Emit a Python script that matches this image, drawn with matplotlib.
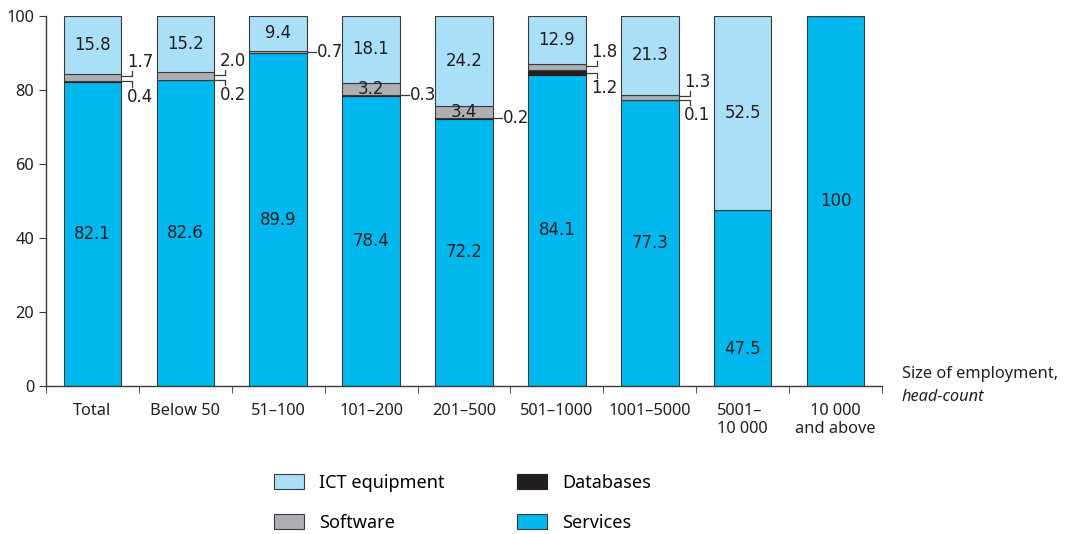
import numpy as np
import matplotlib.pyplot as plt
from matplotlib.patches import Patch

categories = ["Total", "Below 50", "51\u2013100", "101\u2013200", "201\u2013500",
              "501\u20131000", "1001\u20135000", "5001\u2013\n10 000", "10 000\nand above"]
services = [82.1, 82.6, 89.9, 78.4, 72.2, 84.1, 77.3, 47.5, 100]
databases = [0.4, 0.2, 0.0, 0.3, 0.2, 1.2, 0.1, 0.0, 0.0]
software = [1.7, 2.0, 0.7, 3.2, 3.4, 1.8, 1.3, 0.0, 0.0]
ict = [15.8, 15.2, 9.4, 18.1, 24.2, 12.9, 21.3, 52.5, 0.0]

C_ICT = "#a9dff7"
C_SOFT = "#aeafb2"
C_DB = "#231f20"
C_SERV = "#00b8ee"
EDGE = "#3a3a3a"

VAL_FONT = ["DejaVu Sans"]
TXT_FONT = ["Noto Sans", "DejaVu Sans"]

fig = plt.figure(figsize=(10.68, 5.34), dpi=100)
ax = fig.add_axes([46/1068, 1-386/534, 836/1068, 370/534])

x = np.arange(len(categories))
w = 0.62
services = np.array(services)
databases = np.array(databases)
software = np.array(software)
ict = np.array(ict)

b0 = services + databases
b1 = b0 + software
ax.bar(x, services, w, color=C_SERV, edgecolor=EDGE, linewidth=0.8)
ax.bar(x, databases, w, bottom=services, color=C_DB, edgecolor=C_DB, linewidth=0.8)
ax.bar(x, software, w, bottom=b0, color=C_SOFT, edgecolor=EDGE, linewidth=0.8)
ax.bar(x, ict, w, bottom=b1, color=C_ICT, edgecolor=EDGE, linewidth=0.8)

vkw = dict(family=VAL_FONT, fontstretch="condensed", fontsize=13.2, color="#231f20")

# labels inside the segments
for i in range(len(x)):
    if services[i] > 0:
        y = 10 if i == 7 else services[i] / 2
        ax.text(x[i], y, f"{services[i]:g}", ha="center", va="center", **vkw)
    if ict[i] > 0:
        ax.text(x[i], b1[i] + ict[i] / 2, f"{ict[i]:.1f}", ha="center", va="center", **vkw)
for i in (3, 4):
    ax.text(x[i], b0[i] + software[i] / 2, f"{software[i]:.1f}", ha="center",
            va="center", **vkw)

# bracket callouts for the thin segments
edge = w / 2
hl = 0.12
vl = 1.4
for i in (0, 1, 5, 6):
    xe = x[i] + edge
    ys = b0[i] + software[i] / 2 + 0.3
    ax.plot([xe, xe + hl, xe + hl], [ys, ys, ys + vl], color=EDGE, lw=0.9,
            clip_on=False)
    ax.text(xe + 0.06, ys + vl, f"{software[i]:.1f}", ha="left", va="bottom", **vkw)
    yd = services[i] + databases[i] / 2
    ax.plot([xe, xe + hl, xe + hl], [yd, yd, yd - vl], color=EDGE, lw=0.9,
            clip_on=False)
    ax.text(xe + 0.06, yd - vl - 0.3, f"{databases[i]:.1f}", ha="left", va="top", **vkw)

singles = [(2, b0[2] + software[2] / 2, software[2]),
           (3, services[3] + databases[3] / 2, databases[3]),
           (4, services[4] + databases[4] / 2, databases[4])]
for i, y, v in singles:
    xe = x[i] + edge
    ax.plot([xe, xe + 0.1], [y, y], color=EDGE, lw=0.9, clip_on=False)
    ax.text(xe + 0.11, y, f"{v:.1f}", ha="left", va="center", **vkw)

ax.set_xlim(-0.5, len(x) - 0.5)
ax.set_ylim(0, 100)
ax.set_yticks(np.arange(0, 101, 20))
ax.set_xticks(x)
ax.set_xticklabels(categories, family=TXT_FONT, fontsize=11.8, color="#231f20")
ax.get_xticklabels()[7].set_multialignment("left")
ax.set_xticks(np.arange(-0.5, len(x), 1), minor=True)
ax.tick_params(axis="x", which="major", length=0, pad=12)
ax.tick_params(axis="x", which="minor", length=5, direction="out", color=EDGE)
ax.tick_params(axis="y", length=5, direction="out", color=EDGE, labelsize=11.8,
               labelcolor="#231f20")
for lab in ax.get_yticklabels():
    lab.set_family(TXT_FONT)
for s in ("top", "right"):
    ax.spines[s].set_visible(False)
for s in ("left", "bottom"):
    ax.spines[s].set_color(EDGE)
    ax.spines[s].set_linewidth(1.0)

fig.text(902/1068, 1-366/534, "Size of employment,", family=TXT_FONT, fontsize=11.8,
         color="#231f20", va="top", ha="left")
fig.text(902/1068, 1-389/534, "head-count", family=TXT_FONT, fontsize=11.8,
         style="italic", color="#231f20", va="top", ha="left")

handles = [Patch(facecolor=C_ICT, edgecolor=EDGE, lw=0.8, label="ICT equipment"),
           Patch(facecolor=C_SOFT, edgecolor=EDGE, lw=0.8, label="Software"),
           Patch(facecolor=C_DB, edgecolor=C_DB, lw=0.8, label="Databases"),
           Patch(facecolor=C_SERV, edgecolor=EDGE, lw=0.8, label="Services")]
fig.legend(handles=handles, ncol=2, loc="center", bbox_to_anchor=(0.433, 0.058),
           frameon=False, prop={"family": TXT_FONT, "size": 13},
           handlelength=1.65, handleheight=0.9, columnspacing=4.0, labelspacing=1.2,
           handletextpad=0.85)

fig.savefig("out.png", dpi=100)
